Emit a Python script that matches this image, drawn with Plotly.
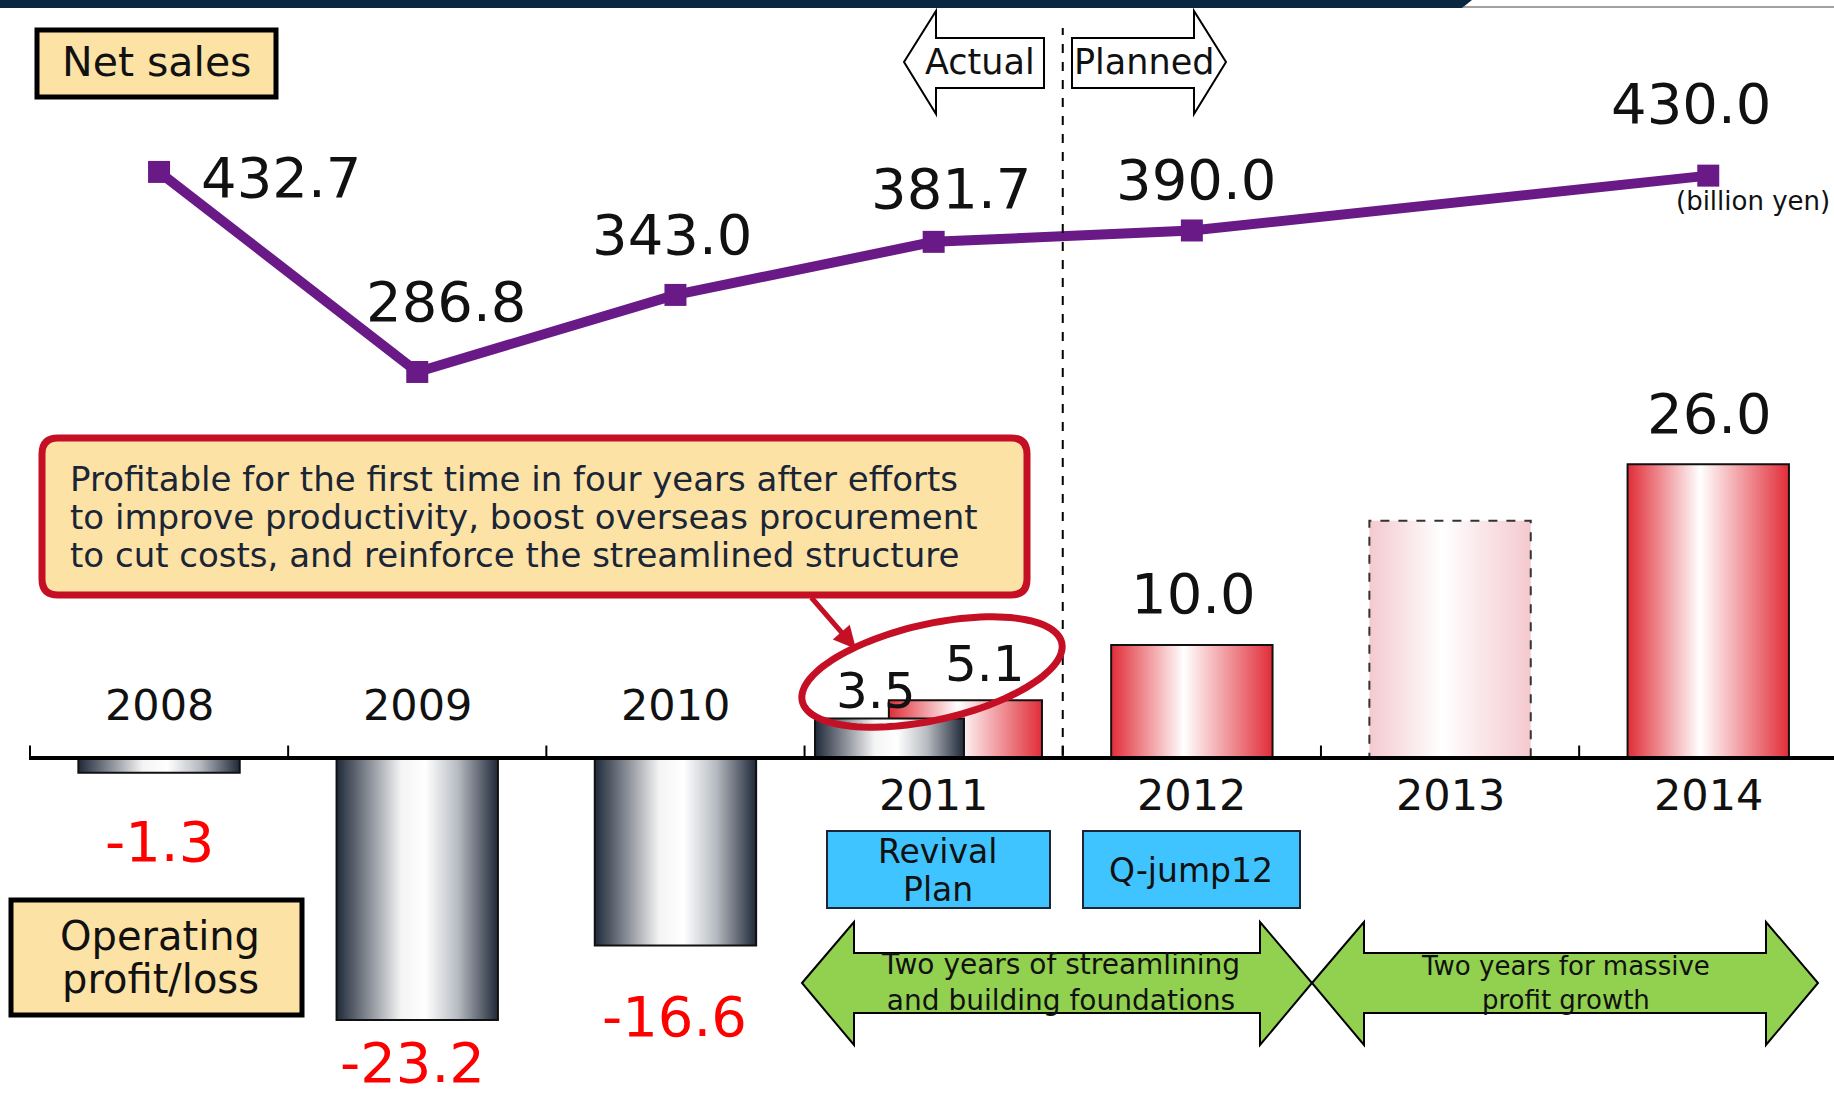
import plotly.graph_objects as go
import numpy as np

W, H = 1834, 1100

# ---------------- data ----------------
years = ['2008', '2009', '2010', '2011', '2012', '2013', '2014']
net_sales = [432.7, 286.8, 343.0, 381.7, 390.0, None, 430.0]
net_sales_labels = ['432.7', '286.8', '343.0', '381.7', '390.0', '', '430.0']
op_profit = [-1.3, -23.2, -16.6, 3.5, 10.0, 21.0, 26.0]
op_profit_labels = ['-1.3', '-23.2', '-16.6', '3.5', '10.0', '', '26.0']
op_2011_second = 5.1
op_2011_second_label = '5.1'

# ---------------- styling / layout constants ----------------
FONT = 'DejaVu Sans'
PURPLE = '#6a1a87'
DARK = [[0, '#1f2939'], [0.40, '#f4f4f4'], [0.55, '#ffffff'], [0.75, '#b8bcc2'], [1, '#1f2939']]
RED = [[0, '#e12d38'], [0.45, '#ffffff'], [1, '#e12d38']]
PALE = [[0, '#f4c9cf'], [0.45, '#ffffff'], [1, '#f4c9cf']]
bar_styles = ['dark', 'dark', 'dark', 'dark', 'red', 'pale', 'red']
BAR_W = 0.625

# pixel helpers (plot area == full page)
def fx(p):
    return p / W

def fy(p):
    return 1 - p / H

def path(pts, close=True):
    s = 'M ' + ' L '.join(f'{fx(x):.5f},{fy(y):.5f}' for x, y in pts)
    return s + (' Z' if close else '')

fig = go.Figure()

def add_bar(xc, w, v, scale, dash='solid', lc='#111111'):
    xs = [xc - w / 2, xc + w / 2, xc + w / 2, xc - w / 2, xc - w / 2]
    ys = [0, 0, v, v, 0]
    fig.add_trace(go.Scatter(
        x=xs, y=ys, mode='lines', fill='toself',
        fillgradient=dict(type='horizontal', colorscale=scale),
        line=dict(color=lc, width=2, dash=dash),
        hoverinfo='skip', showlegend=False))

scales = {'dark': DARK, 'red': RED, 'pale': PALE}
for i, v in enumerate(op_profit):
    st = bar_styles[i]
    if i == 3:
        # two overlapping bars for 2011
        add_bar(i + 0.123, 0.593, op_2011_second, RED)
        add_bar(i - 0.171, 0.577, v, DARK)
    elif st == 'pale':
        add_bar(i, BAR_W, v, PALE, dash='dash', lc='#333333')
    else:
        add_bar(i, BAR_W, v, scales[st])

# Net sales line
xs_line = [i for i, v in enumerate(net_sales) if v is not None]
ys_line = [v for v in net_sales if v is not None]
fig.add_trace(go.Scatter(
    x=xs_line, y=ys_line, yaxis='y2', mode='lines+markers',
    line=dict(color=PURPLE, width=10),
    marker=dict(symbol='square', size=22, color=PURPLE),
    hoverinfo='skip', showlegend=False))

annotations = []

def ann(text, x, y, size, color='#111111', xref='paper', yref='paper', xanchor='center',
        yanchor='middle', xshift=0, yshift=0, align='center'):
    annotations.append(dict(text=text, x=x, y=y, xref=xref, yref=yref, showarrow=False,
                            xanchor=xanchor, yanchor=yanchor, xshift=xshift, yshift=yshift,
                            align=align, font=dict(family=FONT, size=size, color=color)))

# net sales labels (offsets in px relative to each point)
ns_offsets = [(122, -6), (29, 70), (-3, 60), (17, 53), (4, 51), (0, 0), (-17, 72)]
for i, (v, t) in enumerate(zip(net_sales, net_sales_labels)):
    if v is None or not t:
        continue
    dx, dy = ns_offsets[i]
    ann(t, i, v, 56, xref='x', yref='y2', xshift=dx, yshift=dy)

# operating profit labels
op_offsets = [(0, -69), (-5, -42), (-1, -71), (-14, 27), (2, 51), (0, 0), (1, 51)]
for i, (v, t) in enumerate(zip(op_profit, op_profit_labels)):
    if not t:
        continue
    dx, dy = op_offsets[i]
    col = '#ff0000' if v < 0 else '#111111'
    xpos = i - 0.171 if i == 3 else i
    ann(t, xpos, v, 56 if i != 3 else 50, color=col, xref='x', yref='y', xshift=dx, yshift=dy)
ann(op_2011_second_label, 3 + 0.123, op_2011_second, 50, xref='x', yref='y', xshift=20, yshift=36)

# year labels
for i, y in enumerate(years):
    ann(y, i, 0, 43, xref='x', yref='y', yshift=53 if i < 3 else -37)

shapes = []

# top band
shapes.append(dict(type='path', path=path([(0, 0), (1472, 0), (1462, 8), (0, 8)]),
                   fillcolor='#072840', line=dict(width=0), xref='paper', yref='paper'))
shapes.append(dict(type='line', x0=fx(1462), x1=fx(1834), y0=fy(7), y1=fy(7),
                   line=dict(color='#444444', width=1), xref='paper', yref='paper'))

# baseline and ticks
shapes.append(dict(type='line', xref='paper', yref='y', x0=fx(29), x1=1, y0=0, y1=0,
                   line=dict(color='#000000', width=4)))
shapes.append(dict(type='line', xref='paper', yref='y', x0=fx(30), x1=fx(30), y0=0, y1=1.1,
                   line=dict(color='#000000', width=2)))
for k in range(6):
    shapes.append(dict(type='line', xref='x', yref='y', x0=k + 0.5, x1=k + 0.5, y0=0, y1=1.1,
                       line=dict(color='#000000', width=2)))

# actual / planned divider
shapes.append(dict(type='line', xref='x', yref='paper', x0=3.5, x1=3.5, y0=fy(755), y1=fy(28),
                   line=dict(color='#000000', width=2, dash='dash')))

# Actual / Planned arrows
shapes.append(dict(type='path', xref='paper', yref='paper',
                   path=path([(904, 62), (936, 11), (936, 38), (1044, 38), (1044, 88),
                              (936, 88), (936, 114)]),
                   fillcolor='#ffffff', line=dict(color='#000000', width=2)))
shapes.append(dict(type='path', xref='paper', yref='paper',
                   path=path([(1072, 38), (1194, 38), (1194, 11), (1226, 62), (1194, 114),
                              (1194, 88), (1072, 88)]),
                   fillcolor='#ffffff', line=dict(color='#000000', width=2)))
ann('Actual', fx(980), fy(62), 35)
ann('Planned', fx(1144), fy(62), 35)

# Net sales box
shapes.append(dict(type='rect', xref='paper', yref='paper', x0=fx(37), x1=fx(276), y0=fy(30), y1=fy(97),
                   fillcolor='#fde2a6', line=dict(color='#000000', width=5)))
ann('Net sales', fx(156), fy(62), 41)

# (billion yen)
ann('(billion yen)', fx(1832), fy(201), 26, xanchor='right')

# Operating profit/loss box
shapes.append(dict(type='rect', xref='paper', yref='paper', x0=fx(11), x1=fx(302), y0=fy(900), y1=fy(1015),
                   fillcolor='#fde2a6', line=dict(color='#000000', width=5)))
ann('Operating', fx(160), fy(936), 40)
ann('profit/loss', fx(160), fy(979), 40)

# Callout box (rounded)
def rounded(x0, y0, x1, y1, r):
    return (f'M {fx(x0 + r):.5f},{fy(y0):.5f} L {fx(x1 - r):.5f},{fy(y0):.5f} '
            f'Q {fx(x1):.5f},{fy(y0):.5f} {fx(x1):.5f},{fy(y0 + r):.5f} '
            f'L {fx(x1):.5f},{fy(y1 - r):.5f} Q {fx(x1):.5f},{fy(y1):.5f} {fx(x1 - r):.5f},{fy(y1):.5f} '
            f'L {fx(x0 + r):.5f},{fy(y1):.5f} Q {fx(x0):.5f},{fy(y1):.5f} {fx(x0):.5f},{fy(y1 - r):.5f} '
            f'L {fx(x0):.5f},{fy(y0 + r):.5f} Q {fx(x0):.5f},{fy(y0):.5f} {fx(x0 + r):.5f},{fy(y0):.5f} Z')

shapes.append(dict(type='path', xref='paper', yref='paper', path=rounded(42, 438, 1027, 595, 16),
                   fillcolor='#fde2a6', line=dict(color='#c40f24', width=7)))
callout_lines = ['Profitable for the first time in four years after efforts',
                 'to improve productivity, boost overseas procurement',
                 'to cut costs, and reinforce the streamlined structure']
for ln, yy in zip(callout_lines, [479, 517, 555]):
    ann(ln, fx(68), fy(yy), 34, color='#1a2535', xanchor='left', align='left')

# red arrow from callout to 2011 bars
annotations.append(dict(x=fx(856), y=fy(649), xref='paper', yref='paper', ax=-46, ay=-53,
                        axref='pixel', ayref='pixel', showarrow=True, arrowhead=2, arrowsize=0.9,
                        arrowwidth=5, arrowcolor='#c40f24', text=''))

# ellipse around 2011 bars
t = np.linspace(0, 2 * np.pi, 120)
th = np.deg2rad(-12.7)
cx, cy, a, b = 932, 672, 133, 48
ex = cx + a * np.cos(t) * np.cos(th) - b * np.sin(t) * np.sin(th)
ey = cy + a * np.cos(t) * np.sin(th) + b * np.sin(t) * np.cos(th)
shapes.append(dict(type='path', xref='paper', yref='paper', path=path(list(zip(ex, ey))),
                   fillcolor='rgba(0,0,0,0)', line=dict(color='#c40f24', width=7)))

# blue plan boxes
shapes.append(dict(type='rect', xref='paper', yref='paper', x0=fx(827), x1=fx(1050), y0=fy(831), y1=fy(908),
                   fillcolor='#40c4ff', line=dict(color='#1a2535', width=2)))
ann('Revival', fx(938), fy(851), 33)
ann('Plan', fx(938), fy(889), 33)
shapes.append(dict(type='rect', xref='paper', yref='paper', x0=fx(1083), x1=fx(1300), y0=fy(831), y1=fy(908),
                   fillcolor='#40c4ff', line=dict(color='#1a2535', width=2)))
ann('Q-jump12', fx(1191), fy(870), 33)

# green double arrows
def darrow(x0, x1, hw=52, cy=983, top=922, bot=1045, btop=953, bbot=1013):
    return path([(x0, cy), (x0 + hw, top), (x0 + hw, btop), (x1 - hw, btop), (x1 - hw, top),
                 (x1, cy), (x1 - hw, bot), (x1 - hw, bbot), (x0 + hw, bbot), (x0 + hw, bot)])

shapes.append(dict(type='path', xref='paper', yref='paper', path=darrow(802, 1312),
                   fillcolor='#92d050', line=dict(color='#000000', width=2)))
shapes.append(dict(type='path', xref='paper', yref='paper', path=darrow(1312, 1818),
                   fillcolor='#92d050', line=dict(color='#000000', width=2)))
ann('Two years of streamlining<br>and building foundations', fx(1060), fy(982), 28)
ann('Two years for massive<br>profit growth', fx(1565), fy(983), 26)

fig.update_layout(
    width=W, height=H, autosize=False,
    margin=dict(l=0, r=0, t=0, b=0, pad=0),
    paper_bgcolor='#ffffff', plot_bgcolor='#ffffff',
    showlegend=False,
    xaxis=dict(range=[-0.616, 6.487], visible=False, domain=[0, 1], fixedrange=True),
    yaxis=dict(range=[-30.27, 67.08], visible=False, domain=[0, 1], fixedrange=True),
    yaxis2=dict(range=[-244.2, 558.1], visible=False, overlaying='y', fixedrange=True),
    shapes=shapes,
    annotations=annotations,
    font=dict(family=FONT),
)

fig.write_html('out.html', config={'displayModeBar': False},
               post_script="document.body.style.margin='0';document.body.style.overflow='hidden';")
